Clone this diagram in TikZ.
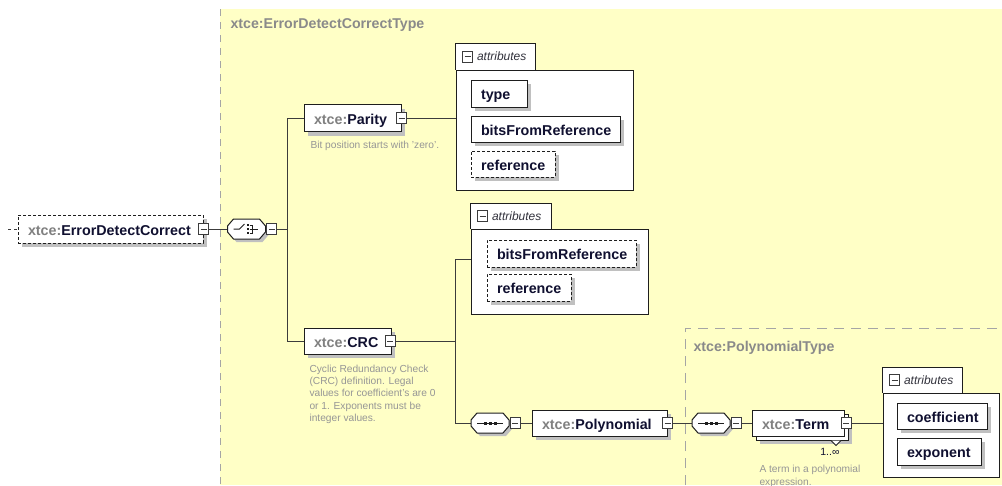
\documentclass[tikz,border=0pt]{standalone}
\usepackage{fontspec}
\setmainfont{Liberation Sans}
\usetikzlibrary{shadows,calc}

\definecolor{bgyellow}{RGB}{255,255,198}
\definecolor{shadowgray}{RGB}{192,192,192}
\definecolor{linec}{RGB}{60,60,60}
\definecolor{boxline}{RGB}{30,30,30}
\definecolor{prefixc}{RGB}{128,128,128}
\definecolor{namec}{RGB}{16,16,48}
\definecolor{headc}{RGB}{138,138,138}
\definecolor{descc}{RGB}{150,150,150}
\definecolor{regionc}{RGB}{165,165,165}
\definecolor{tabtext}{RGB}{50,50,60}

\newcommand{\xpfx}[1]{{\color{prefixc}#1}}

\tikzset{
  conn/.style={draw=linec, line width=1pt},
  sh/.style={general shadow={shadow xshift=4pt, shadow yshift=-4pt, fill=shadowgray}},
  ebox/.style={draw=boxline, fill=white, line width=1pt, inner sep=0pt, minimum height=26pt},
  dbox/.style={ebox, dash pattern=on 3pt off 2pt},
  etext/.style={anchor=base west, inner sep=0pt, font=\fontsize{14.3}{16}\selectfont\bfseries, text=namec},
  hdr/.style={anchor=base west, inner sep=0pt, font=\fontsize{14.2}{16}\selectfont\bfseries, text=headc},
  desc/.style={anchor=north west, inner sep=0pt, align=left, font=\fontsize{10.2}{12.3}\selectfont, text=descc},
  atab/.style={anchor=west, inner sep=0pt, font=\fontsize{12}{14}\selectfont\itshape, text=tabtext},
  cmp/.style={inner sep=0pt, minimum width=38pt, minimum height=20pt},
  abody/.style={draw=boxline, fill=white, line width=1pt, inner sep=0pt},
  minus/.pic={
    \draw[fill=white, draw=linec, line width=0.9pt] (-5,-5.5) rectangle (5,5.5);
    \draw[draw=linec, line width=0.9pt] (-3,0) -- (3,0);
  },
  octo/.pic={
    \fill[shadowgray] (-16,0) -- (-10,-7) -- (16,-7) -- (22,0) -- (22,6) -- (16,13) -- (-10,13) -- (-16,6) -- cycle;
    \draw[fill=white, draw=boxline, line width=1pt]
      (-19,-3) -- (-13,-10) -- (13,-10) -- (19,-3) -- (19,3) -- (13,10) -- (-13,10) -- (-19,3) -- cycle;
  },
  choicesym/.pic={
    \pic {octo};
    \draw[boxline, line width=1pt] (-13,0) -- (-7,0) -- (-2,-5);
    \fill[boxline] (0.5,-5) rectangle (2.5,-3);
    \fill[boxline] (0.5,-1) rectangle (2.5,1);
    \fill[boxline] (0.5,3) rectangle (2.5,5);
    \draw[boxline, line width=1pt] (3,-4) -- (6,-4) -- (6,4) -- (3,4);
    \draw[boxline, line width=1pt] (3,0) -- (11,0);
  },
  seqsym/.pic={
    \pic {octo};
    \draw[boxline, line width=1pt] (-13,0) -- (13,0);
    \fill[boxline] (-6.5,-1.5) rectangle (-3.5,1.5);
    \fill[boxline] (-1.5,-1.5) rectangle (1.5,1.5);
    \fill[boxline] (3.5,-1.5) rectangle (6.5,1.5);
  }
}

\begin{document}
\begin{tikzpicture}[x=1pt,y=-1pt,line width=1pt]
\useasboundingbox (0,0) rectangle (1002,485);
\fill[white] (0,0) rectangle (1002,485);

% complex type areas
\fill[bgyellow] (220,9) rectangle (1002,485);
\draw[regionc, dash pattern=on 7pt off 6pt] (220,9) -- (220,485);
\draw[regionc, dash pattern=on 10pt off 7pt] (685,485) -- (685,328) -- (1002,328);
\node[hdr] (hdr1) at (230,28.5) {xtce:ErrorDetectCorrectType};
\node[hdr] (hdr2) at (693,351) {xtce:PolynomialType};

% root element
\node[dbox, sh, minimum width=185pt, minimum height=28pt] (edc) at (110.5,229) {};
\node[etext] (edc-t) at ($(edc.west)+(10,6)$) {\xpfx{xtce:}ErrorDetectCorrect};
\coordinate (stub) at (8,229);

% compositors
\node[cmp] (cho) at (246.5,229) {};
\node[cmp] (s1) at (490,423) {};
\node[cmp] (s2) at (711,423) {};

% child elements
\node[ebox, sh, minimum width=97pt, minimum height=27pt] (parity) at (352.5,118) {};
\node[etext] (parity-t) at ($(parity.west)+(10,6)$) {\xpfx{xtce:}Parity};
\node[desc, anchor=base west] (parity-d) at (310,148.5) {Bit position starts with 'zero'.};

\node[ebox, sh, minimum width=87pt] (crc) at (347.5,341) {};
\node[etext] (crc-t) at ($(crc.west)+(10,6)$) {\xpfx{xtce:}CRC};
\node[desc] (crc-d) at (309,364.5) {Cyclic Redundancy Check\\(CRC) definition. Legal\\values for coefficient's are 0\\or 1. Exponents must be\\integer values.};

\node[ebox, sh, minimum width=135pt] (poly) at (599.5,423) {};
\node[etext] (poly-t) at ($(poly.west)+(10,6)$) {\xpfx{xtce:}Polynomial};

\node[ebox, sh, minimum width=92pt] (termback) at (802,427) {};
\node[ebox, minimum width=92pt] (term) at (798,423) {};
\node[etext] (term-t) at ($(term.west)+(10,6)$) {\xpfx{xtce:}Term};
\draw[draw=boxline, fill=white, line width=0.9pt] (831,440.5) -- (836,445.5) -- (841,440.5);
\node[anchor=base east, inner sep=0pt, font=\fontsize{10.5}{12}\selectfont, text=namec] (term-m) at (840,455.5) {1..∞};
\node[desc] (term-d) at (759,465) {A term in a polynomial\\expression.};

% attribute groups
\node[abody, minimum width=177pt, minimum height=120pt] (a1) at (544.5,130) {};
\draw[abody] (a1.north west) -- ++(0,-26) -- ++(80,0) -- ++(0,26);
\fill[white] ($(a1.north west)+(0.5,-0.6)$) rectangle ($(a1.north west)+(79.5,0.6)$);
\pic at ($(a1.north west)+(12,-13)$) {minus};
\node[atab] (a1-l) at ($(a1.north west)+(21,-13)$) {attributes};

\node[abody, minimum width=177pt, minimum height=85pt] (a2) at (559.5,271.5) {};
\draw[abody] (a2.north west) -- ++(0,-25) -- ++(81,0) -- ++(0,25);
\fill[white] ($(a2.north west)+(0.5,-0.6)$) rectangle ($(a2.north west)+(80.5,0.6)$);
\pic at ($(a2.north west)+(12,-12.5)$) {minus};
\node[atab] (a2-l) at ($(a2.north west)+(21,-12.5)$) {attributes};

\node[abody, minimum width=116pt, minimum height=84pt] (a3) at (941,435) {};
\draw[abody] (a3.north west) -- ++(0,-25) -- ++(80,0) -- ++(0,25);
\fill[white] ($(a3.north west)+(0.5,-0.6)$) rectangle ($(a3.north west)+(79.5,0.6)$);
\pic at ($(a3.north west)+(12,-12.5)$) {minus};
\node[atab] (a3-l) at ($(a3.north west)+(21,-12.5)$) {attributes};

% attributes
\node[ebox, sh, minimum width=56pt, minimum height=27pt] (type) at (499,93.5) {};
\node[etext] (type-t) at ($(type.west)+(10,6)$) {type};
\node[ebox, sh, minimum width=149pt] (bfr1) at (545.5,129) {};
\node[etext] (bfr1-t) at ($(bfr1.west)+(10,6)$) {bitsFromReference};
\node[dbox, sh, minimum width=84pt] (ref1) at (513,164) {};
\node[etext] (ref1-t) at ($(ref1.west)+(10,6)$) {reference};

\node[dbox, sh, minimum width=149pt, minimum height=27pt] (bfr2) at (561.5,253.5) {};
\node[etext] (bfr2-t) at ($(bfr2.west)+(10,6)$) {bitsFromReference};
\node[dbox, sh, minimum width=84pt, minimum height=27pt] (ref2) at (529,287.5) {};
\node[etext] (ref2-t) at ($(ref2.west)+(10,6)$) {reference};

\node[ebox, sh, minimum width=90pt] (coef) at (942,416) {};
\node[etext] (coef-t) at ($(coef.west)+(10,6)$) {coefficient};
\node[ebox, sh, minimum width=84pt, minimum height=27pt] (expo) at (939,451.5) {};
\node[etext] (expo-t) at ($(expo.west)+(10,6)$) {exponent};

% connectors
\coordinate (bus1) at (287,229);
\coordinate (bus2) at (455,341);
\coordinate (bus2top) at (455,259);
\draw[conn, dash pattern=on 3pt off 3pt] (stub) -- (edc.west);
\draw[conn] (edc.east) -- (cho.west);
\draw[conn] (cho.east) -- (bus1);
\draw[conn] (parity.west) -- (parity.west -| bus1) -- (crc.west -| bus1) -- (crc.west);
\draw[conn] (parity.east) -- (parity.east -| a1.west);
\draw[conn] (crc.east) -- (bus2);
\draw[conn] (a2.west |- bus2top) -- (bus2top) -- (bus2top |- s1.west) -- (s1.west);
\draw[conn] (s1.east) -- (poly.west);
\draw[conn] (poly.east) -- (s2.west);
\draw[conn] (s2.east) -- (term.west);
\draw[conn] (term.east) -- (term.east -| a3.west);

% compositor symbols and expand icons
\pic at (cho) {choicesym};
\pic at (s1) {seqsym};
\pic at (s2) {seqsym};
\pic at ($(cho.east)+(5.5,0)$) {minus};
\pic at ($(s1.east)+(5.5,0)$) {minus};
\pic at ($(s2.east)+(5.5,0)$) {minus};
\pic at (edc.east) {minus};
\pic at (parity.east) {minus};
\pic at ($(crc.east)+(-1.5,0)$) {minus};
\pic at (poly.east) {minus};
\pic at ($(term.east)+(1.5,0)$) {minus};
\end{tikzpicture}
\end{document}
